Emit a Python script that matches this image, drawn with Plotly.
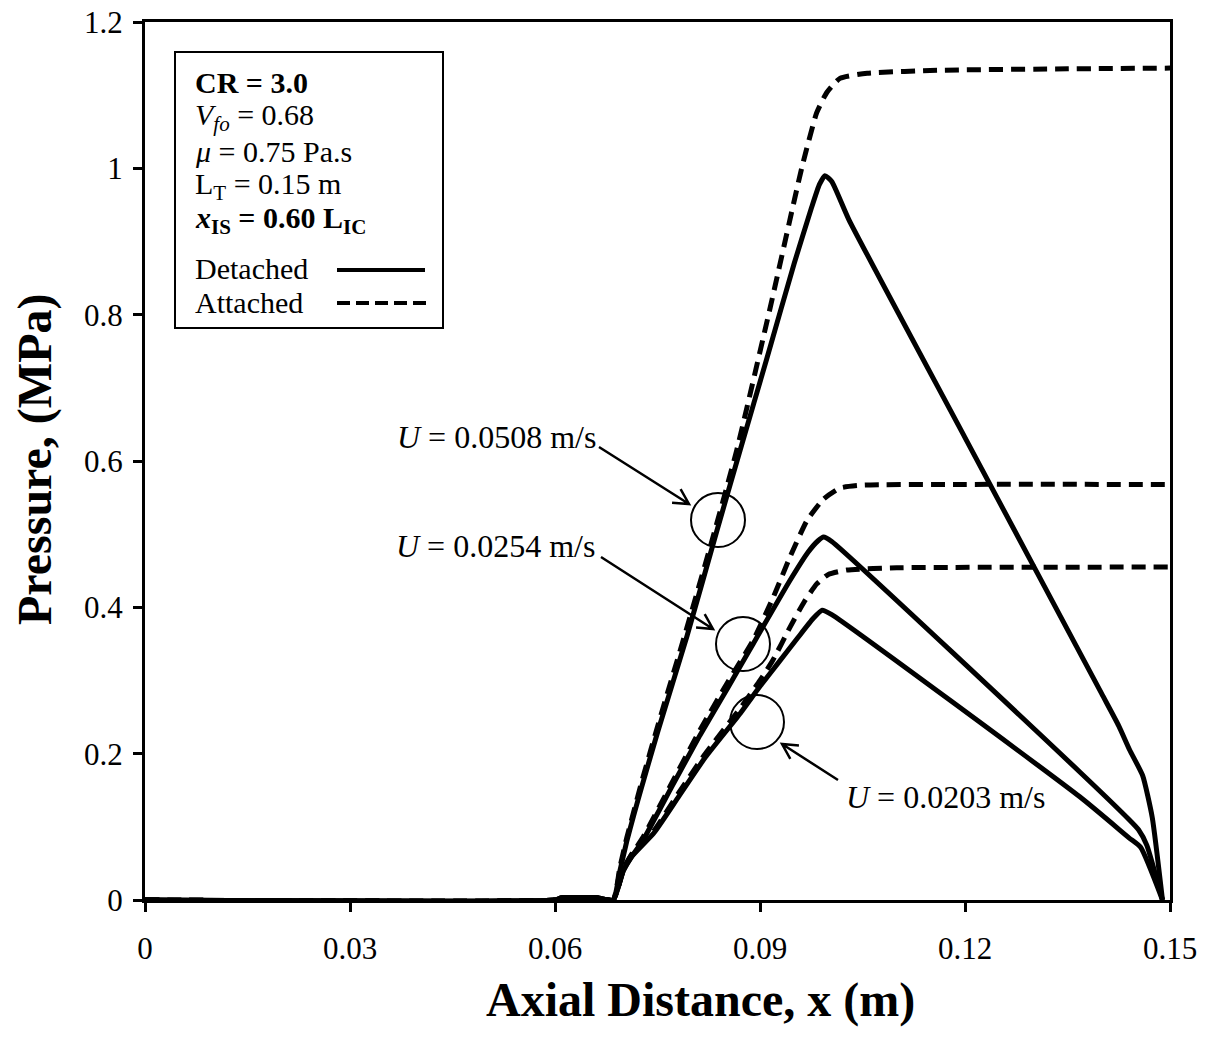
import plotly.graph_objects as go
import numpy as np

# ---------------- data ----------------
x_det_0508 = [0.0, 0.060, 0.061, 0.066, 0.0685, 0.0695, 0.0705, 0.0715, 0.0727, 0.0751, 0.0793, 0.0837,
              0.0871, 0.0910, 0.0950, 0.0975, 0.0987, 0.0995, 0.1005, 0.1030, 0.1200, 0.1400, 0.1425,
              0.1441, 0.1460, 0.1474, 0.1489]
y_det_0508 = [0.0, 0.0, 0.003, 0.003, 0.0, 0.040, 0.080, 0.115, 0.155, 0.232, 0.360, 0.505,
              0.615, 0.740, 0.870, 0.945, 0.978, 0.990, 0.982, 0.930, 0.632, 0.282, 0.238,
              0.205, 0.170, 0.113, 0.0]

x_att_0508 = [0.0, 0.060, 0.061, 0.066, 0.0685, 0.0695, 0.0705, 0.0715, 0.0727, 0.0751, 0.0793, 0.0830,
              0.0866, 0.0915, 0.0961, 0.0983, 0.0998, 0.1017, 0.1057, 0.1163, 0.1350, 0.1500]
y_att_0508 = [0.0, 0.0, 0.003, 0.003, 0.0, 0.045, 0.085, 0.120, 0.162, 0.240, 0.372, 0.492,
              0.615, 0.810, 1.000, 1.076, 1.104, 1.123, 1.130, 1.134, 1.136, 1.137]

x_det_0254 = [0.0, 0.060, 0.061, 0.066, 0.0685, 0.0700, 0.0712, 0.0729, 0.0771, 0.0812, 0.0853, 0.0885,
              0.0944, 0.0970, 0.0985, 0.0993, 0.1005, 0.1368, 0.1440, 0.1454, 0.1466, 0.1489]
y_det_0254 = [0.0, 0.0, 0.003, 0.003, 0.0, 0.040, 0.059, 0.082, 0.155, 0.225, 0.290, 0.342,
              0.437, 0.475, 0.491, 0.496, 0.490, 0.175, 0.110, 0.096, 0.075, 0.0]

x_att_0254 = [0.0, 0.060, 0.061, 0.066, 0.0685, 0.0700, 0.0712, 0.0729, 0.0771, 0.0812, 0.0853, 0.0890,
              0.0920, 0.0944, 0.0969, 0.0993, 0.1017, 0.1050, 0.1200, 0.1500]
y_att_0254 = [0.0, 0.0, 0.003, 0.003, 0.0, 0.042, 0.062, 0.086, 0.160, 0.232, 0.298, 0.355,
              0.415, 0.469, 0.519, 0.548, 0.563, 0.567, 0.568, 0.568]

x_det_0203 = [0.0, 0.060, 0.061, 0.066, 0.0685, 0.0700, 0.0712, 0.0745, 0.0780, 0.0820, 0.0871, 0.0900,
              0.0925, 0.0955, 0.0978, 0.0991, 0.1005, 0.1368, 0.1440, 0.1457, 0.1489]
y_det_0203 = [0.0, 0.0, 0.003, 0.003, 0.0, 0.040, 0.059, 0.092, 0.140, 0.195, 0.255, 0.292,
              0.322, 0.358, 0.385, 0.396, 0.390, 0.141, 0.085, 0.072, 0.0]

x_att_0203 = [0.0, 0.060, 0.061, 0.066, 0.0685, 0.0700, 0.0712, 0.0745, 0.0780, 0.0820, 0.0871, 0.0900,
              0.0919, 0.0944, 0.0965, 0.0983, 0.1000, 0.1027, 0.1100, 0.1500]
y_att_0203 = [0.0, 0.0, 0.003, 0.003, 0.0, 0.042, 0.062, 0.095, 0.145, 0.200, 0.262, 0.300,
              0.328, 0.373, 0.408, 0.432, 0.445, 0.451, 0.454, 0.455]

x_ticks = [0, 0.03, 0.06, 0.09, 0.12, 0.15]
x_tick_labels = ["0", "0.03", "0.06", "0.09", "0.12", "0.15"]
y_ticks = [0, 0.2, 0.4, 0.6, 0.8, 1.0, 1.2]
y_tick_labels = ["0", "0.2", "0.4", "0.6", "0.8", "1", "1.2"]

legend_lines = ["<b>CR = 3.0</b>",
                "<i>V</i><sub><i>fo</i></sub> = 0.68",
                "<i>μ</i> = 0.75 Pa.s",
                "L<sub>T</sub> = 0.15 m",
                "<b><i>x</i><sub>IS</sub> = 0.60 L<sub>IC</sub></b>",
                "Detached",
                "Attached"]

# ---------------- layout geometry ----------------
W, H = 1215, 1051
L, R, T, B = 145, 45, 22, 151
PW, PH = W - L - R, H - T - B
XMAX, YMAX = 0.15, 1.2
FONT = "Liberation Serif"


def px2x(px):
    return (px - L) / PW * XMAX


def py2y(py):
    return (T + PH - py) / PH * YMAX


def ppx(px):
    return (px - L) / PW


def ppy(py):
    return (T + PH - py) / PH


fig = go.Figure()

solid = dict(color="black", width=5, shape="spline", smoothing=0.5)
dashed = dict(color="black", width=5, dash="14px,8px", shape="spline", smoothing=0.5)

for xs, ys, ln in [(x_det_0508, y_det_0508, solid), (x_att_0508, y_att_0508, dashed),
                   (x_det_0254, y_det_0254, solid), (x_att_0254, y_att_0254, dashed),
                   (x_det_0203, y_det_0203, solid), (x_att_0203, y_att_0203, dashed)]:
    fig.add_trace(go.Scatter(x=xs, y=ys, mode="lines", line=ln, showlegend=False,
                             hoverinfo="skip"))

shapes = []
annotations = []

# legend box
shapes.append(dict(type="rect", xref="paper", yref="paper",
                   x0=ppx(175), x1=ppx(443), y0=ppy(328), y1=ppy(52),
                   line=dict(color="black", width=2), fillcolor="white", layer="above"))
legend_y = [82, 117, 151, 186, 220, 268, 302]
for txt, py in zip(legend_lines, legend_y):
    annotations.append(dict(xref="paper", yref="paper", x=ppx(193), y=ppy(py),
                            xanchor="left", yanchor="middle", text=txt, showarrow=False,
                            font=dict(family=FONT, size=30, color="black")))
shapes.append(dict(type="line", xref="paper", yref="paper", x0=ppx(337), x1=ppx(425),
                   y0=ppy(270), y1=ppy(270), line=dict(color="black", width=4)))
shapes.append(dict(type="line", xref="paper", yref="paper", x0=ppx(337), x1=ppx(428),
                   y0=ppy(303), y1=ppy(303), line=dict(color="black", width=4, dash="13px,6px")))

# circles
for cx, cy in [(718, 520), (743, 644), (757, 722)]:
    r = 27
    shapes.append(dict(type="circle", xref="x", yref="y",
                       x0=px2x(cx - r), x1=px2x(cx + r), y0=py2y(cy + r), y1=py2y(cy - r),
                       line=dict(color="black", width=2)))


# arrows with open V heads
def arrow(tail, tip, head=17, ang=28):
    tx, ty = tail
    hx, hy = tip
    d = np.array([tx - hx, ty - hy], dtype=float)
    d /= np.linalg.norm(d)
    path = f"M {px2x(tx)},{py2y(ty)} L {px2x(hx)},{py2y(hy)}"
    segs = []
    for a in (np.radians(ang), -np.radians(ang)):
        rot = np.array([[np.cos(a), -np.sin(a)], [np.sin(a), np.cos(a)]])
        v = rot @ d * head
        segs.append((hx + v[0], hy + v[1]))
    path += f" M {px2x(segs[0][0])},{py2y(segs[0][1])} L {px2x(hx)},{py2y(hy)} L {px2x(segs[1][0])},{py2y(segs[1][1])}"
    return dict(type="path", xref="x", yref="y", path=path, line=dict(color="black", width=2.5))


shapes.append(arrow((599, 447), (689, 504)))
shapes.append(arrow((601, 557), (713, 629)))
shapes.append(arrow((838, 780), (782, 744)))

annotations.append(dict(xref="x", yref="y", x=px2x(598), y=py2y(437), xanchor="right",
                        yanchor="middle", text="<i>U</i> = 0.0508 m/s", showarrow=False,
                        font=dict(family=FONT, size=32, color="black")))
annotations.append(dict(xref="x", yref="y", x=px2x(597), y=py2y(546), xanchor="right",
                        yanchor="middle", text="<i>U</i> = 0.0254 m/s", showarrow=False,
                        font=dict(family=FONT, size=32, color="black")))
annotations.append(dict(xref="x", yref="y", x=px2x(844), y=py2y(797), xanchor="left",
                        yanchor="middle", text="<i>U</i> = 0.0203 m/s", showarrow=False,
                        font=dict(family=FONT, size=32, color="black")))

# axis titles
annotations.append(dict(xref="paper", yref="paper", x=ppx(700), y=ppy(1000), xanchor="center",
                        yanchor="middle", text="<b>Axial Distance, x (m)</b>", showarrow=False,
                        font=dict(family=FONT, size=48, color="black")))
annotations.append(dict(xref="paper", yref="paper", x=ppx(35), y=ppy(460), xanchor="center",
                        yanchor="middle", text="<b>Pressure, (MPa)</b>", showarrow=False,
                        textangle=-90, font=dict(family=FONT, size=48, color="black")))

axis_common = dict(showline=True, linecolor="black", linewidth=3, mirror=True,
                   ticks="outside", ticklen=9, tickwidth=3, tickcolor="black",
                   showgrid=False, zeroline=False, automargin=False,
                   tickfont=dict(family=FONT, size=31, color="black"))

fig.update_layout(
    width=W, height=H,
    margin=dict(l=L, r=R, t=T, b=B, autoexpand=False),
    paper_bgcolor="white", plot_bgcolor="white",
    shapes=shapes, annotations=annotations,
    xaxis=dict(range=[0, XMAX], tickvals=x_ticks, ticktext=x_tick_labels,
               ticklabelstandoff=10, **axis_common),
    yaxis=dict(range=[0, YMAX], tickvals=y_ticks, ticktext=y_tick_labels,
               ticklabelstandoff=4, **axis_common),
    showlegend=False,
)

fig.write_html("out.html")
